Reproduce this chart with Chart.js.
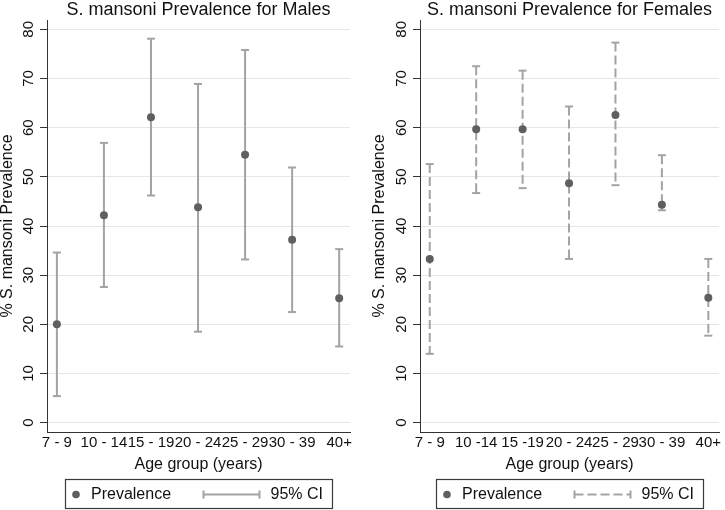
<!DOCTYPE html>
<html>
<head>
<meta charset="utf-8">
<script src="https://cdn.jsdelivr.net/npm/chart.js@4/dist/chart.umd.min.js"></script>
<style>
  body { margin: 0; background: #fff; }
  #wrap { position: relative; width: 725px; height: 510px; }
  #left { position: absolute; left: 0; top: 0; }
  #right { position: absolute; left: 362px; top: 0; }
</style>
</head>
<body>
<div id="wrap">
  <canvas id="left" width="362" height="510"></canvas>
  <canvas id="right" width="363" height="510"></canvas>
</div>
<script>
// age groups (the female panel labels are written slightly differently)
const ageMale = ['7 - 9', '10 - 14', '15 - 19', '20 - 24', '25 - 29', '30 - 39', '40+'];
const ageFemale = ['7 - 9', '10 -14', '15 -19', '20 - 24', '25 - 29', '30 - 39', '40+'];

// prevalence (%) and 95% CI
const maleEst = [20.0, 42.2, 62.1, 43.8, 54.5, 37.2, 25.3];
const maleLo = [5.4, 27.6, 46.2, 18.5, 33.2, 22.5, 15.5];
const maleHi = [34.6, 56.9, 78.1, 68.9, 75.8, 51.9, 35.3];

const femaleEst = [33.3, 59.7, 59.7, 48.7, 62.6, 44.3, 25.4];
const femaleLo = [14.0, 46.7, 47.7, 33.3, 48.3, 43.2, 17.7];
const femaleHi = [52.6, 72.5, 71.6, 64.3, 77.3, 54.4, 33.3];

const yTicks = [0, 10, 20, 30, 40, 50, 60, 70, 80];

const FONT = "'Liberation Sans', Arial, Helvetica, sans-serif";
const POINT_COL = '#5f5f5f';
const CI_COL = '#a3a3a3';
const AXIS_COL = '#333333';

// titles and the boxed legend are drawn here
const panelDecor = {
    id: 'panelDecor',
    afterDraw(chart, args, opts) {
        const ctx = chart.ctx;
        const area = chart.chartArea;
        const cx = (area.left + area.right) / 2;
        ctx.save();
        ctx.fillStyle = '#111';
        ctx.font = '18px ' + FONT;
        ctx.textAlign = 'center';
        ctx.textBaseline = 'middle';
        ctx.fillText(opts.title, cx, 10);

        // legend box
        const w = 267, h = 29;
        const bx = Math.round(cx - w / 2) + 0.5, by = 479.5;
        ctx.strokeStyle = '#3a3a3a';
        ctx.lineWidth = 1.2;
        ctx.strokeRect(bx, by, w, h);
        const my = by + h / 2 + 0.5;

        ctx.fillStyle = POINT_COL;
        ctx.beginPath();
        ctx.arc(bx + 10.5, my, 3.8, 0, Math.PI * 2);
        ctx.fill();

        ctx.fillStyle = '#111';
        ctx.font = '16px ' + FONT;
        ctx.textAlign = 'left';
        ctx.fillText('Prevalence', bx + 25.5, my);
        ctx.fillText('95% CI', bx + 205, my);

        ctx.strokeStyle = CI_COL;
        ctx.lineWidth = 2;
        ctx.beginPath();
        ctx.moveTo(bx + 138, my - 4); ctx.lineTo(bx + 138, my + 4);
        ctx.moveTo(bx + 194, my - 4); ctx.lineTo(bx + 194, my + 4);
        ctx.stroke();
        if (opts.dash) ctx.setLineDash(opts.dash);
        ctx.beginPath();
        ctx.moveTo(bx + 138, my); ctx.lineTo(bx + 194, my);
        ctx.stroke();
        ctx.restore();
    }
};

function ciData(lo, hi) {
    // one polyline with gaps: upper -> lower for each group
    const out = [];
    lo.forEach((v, i) => {
        out.push({x: i + 1, y: hi[i]});
        out.push({x: i + 1, y: v});
        out.push({x: i + 1, y: null});
    });
    return out;
}

function makePanel(canvasId, title, labels, est, lo, hi, dash, padLeft, padRight, yWidth) {
    const ctx = document.getElementById(canvasId).getContext('2d');
    return new Chart(ctx, {
        type: 'scatter',
        data: {
            datasets: [{
                label: 'Prevalence',
                data: est.map((v, i) => ({x: i + 1, y: v})),
                pointStyle: 'circle',
                pointRadius: 4,
                pointBorderWidth: 0,
                backgroundColor: POINT_COL,
                borderColor: POINT_COL,
                order: 0
            }, {
                label: '95% CI',
                data: ciData(lo, hi),
                showLine: true,
                spanGaps: false,
                borderColor: CI_COL,
                borderWidth: 2,
                borderDash: dash || [],
                pointStyle: 'line',
                pointRadius: 4,
                pointBorderWidth: 2,
                pointBorderColor: CI_COL,
                order: 1
            }]
        },
        options: {
            responsive: false,
            animation: false,
            events: [],
            layout: {padding: {top: 20, bottom: 30, left: padLeft, right: padRight}},
            plugins: {
                legend: {display: false},
                tooltip: {enabled: false},
                panelDecor: {title: title, dash: dash}
            },
            scales: {
                x: {
                    type: 'linear',
                    min: 0.79,
                    max: 7.23,
                    afterBuildTicks: s => { s.ticks = labels.map((l, i) => ({value: i + 1})); },
                    afterFit: s => { s.height = 48; },
                    grid: {display: false, drawTicks: false},
                    border: {display: true, color: AXIS_COL, width: 1},
                    ticks: {
                        padding: 2,
                        color: '#111',
                        font: {family: FONT, size: 15},
                        maxRotation: 0,
                        autoSkip: false,
                        callback: v => labels[v - 1]
                    },
                    title: {
                        display: true,
                        text: 'Age group (years)',
                        color: '#111',
                        font: {family: FONT, size: 16},
                        padding: {top: 0, bottom: 6}
                    }
                },
                y: {
                    min: -1.9,
                    max: 81.9,
                    afterBuildTicks: s => { s.ticks = yTicks.map(v => ({value: v})); },
                    afterFit: s => { s.width = yWidth; },
                    grid: {color: '#e6e6e6', lineWidth: 1, tickLength: 7, tickColor: AXIS_COL},
                    border: {display: true, color: AXIS_COL, width: 1},
                    ticks: {
                        padding: 3,
                        color: '#111',
                        font: {family: FONT, size: 15},
                        minRotation: 90,
                        maxRotation: 90,
                        crossAlign: 'center'
                    },
                    title: {
                        display: true,
                        text: '% S. mansoni Prevalence',
                        color: '#111',
                        font: {family: FONT, size: 16, lineHeight: 1},
                        padding: {top: 0, bottom: 0}
                    }
                }
            }
        },
        plugins: [panelDecor]
    });
}

makePanel('left', 'S. mansoni Prevalence for Males', ageMale, maleEst, maleLo, maleHi, null, 0, 12, 47);
makePanel('right', 'S. mansoni Prevalence for Females', ageFemale, femaleEst, femaleLo, femaleHi, [9, 4], 10, 1, 48);
</script>
</body>
</html>
